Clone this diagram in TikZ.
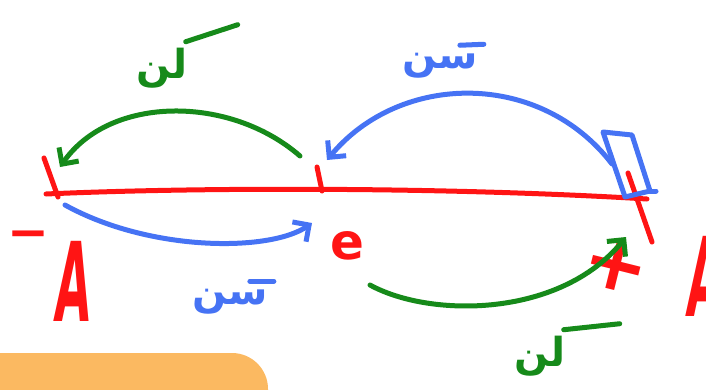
\documentclass[tikz,border=0pt]{standalone}
\usepackage{fontspec}
\setmainfont{DejaVu Sans}
\newfontfamily\arabicfont[Script=Arabic]{DejaVu Sans}
\TeXXeTstate=1
\usetikzlibrary{arrows.meta}
\definecolor{pen}{HTML}{FF1414}
\definecolor{bluepen}{HTML}{4673F4}
\definecolor{greenpen}{HTML}{168A1A}
\definecolor{notefill}{HTML}{FBB961}
\tikzset{
  stroke/.style={line width=5pt,line cap=round,line join=round},
  axis/.style={stroke,draw=pen},
  bluearr/.style={stroke,draw=bluepen,-{Straight Barb[length=12pt,width=24pt]}},
  greenarr/.style={stroke,draw=greenpen,-{Straight Barb[length=12pt,width=24pt]}},
  bluebar/.style={stroke,draw=bluepen},
  greenbar/.style={stroke,draw=greenpen},
  poslabel/.style={text=pen,inner sep=0pt},
  bigA/.style={poslabel,font=\fontsize{110}{110}\selectfont\bfseries,xscale=0.42,xslant=0.15},
  arab/.style={inner sep=0pt,font=\fontsize{40}{40}\selectfont\arabicfont\bfseries},
}
\begin{document}
\begin{tikzpicture}[x=1pt,y=-1pt]
\useasboundingbox (0,0) rectangle (706,389);
\clip (0,0) rectangle (706,389);

% note box at the bottom (cut off)
\fill[notefill,rounded corners=36pt] (-40,353) -- (268,353) -- (268,440) -- (-40,440) -- cycle;

% axis with the three positions
\coordinate (negA) at (46,194);
\coordinate (mid) at (320,190);
\coordinate (posA) at (647,199);
\draw[axis] (negA) .. controls (200,187) and (450,187) .. (posA);
\draw[axis] (44,158) -- (58,197);
\draw[axis] (317,167) -- (322,191);
\draw[axis] (628,173) -- (652,242);

% block at +A
\draw[stroke,draw=bluepen] (603,132) -- (632,135) -- (650,191) -- (625,197) -- cycle;
\draw[stroke,draw=bluepen] (650,191) -- (656,191);

% position labels
\node[poslabel,font=\fontsize{50}{50}\selectfont\bfseries] (minus) at (28,240) {−};
\node[bigA] (Aleft) at (74,281) {A};
\node[poslabel,font=\fontsize{50}{50}\selectfont\bfseries] (eq) at (347,246) {e};
\node[poslabel,font=\fontsize{78}{78}\selectfont\bfseries,rotate=-14] (plus) at (616,266) {+};
\node[bigA] (Aright) at (706,276) {A};

% ends of the arrows
\coordinate (gt1) at (300,156);
\coordinate (gt2) at (60,167);
\coordinate (bt1) at (612,164);
\coordinate (bt2) at (327,160);
\coordinate (bb1) at (65,205);
\coordinate (bb2) at (312,223);
\coordinate (gb1) at (370,285);
\coordinate (gb2) at (626,237);

% arrows
\draw[greenarr] (gt1) .. controls (230,95) and (110,95) .. (gt2);
\draw[bluearr] (bt1) .. controls (540,70) and (400,72) .. (bt2);
\draw[bluearr] (bb1) .. controls (150,252) and (270,252) .. (bb2);
\draw[greenarr] (gb1) .. controls (430,318) and (560,318) .. (gb2);

% time labels
\node[arab,text=greenpen] (gtop) at (162,68) {\beginR لن\endR};
\node[arab,text=bluepen] (btop) at (440,66) {\beginR سن\endR};
\node[arab,text=bluepen] (bbot) at (230,302) {\beginR سن\endR};
\node[arab,text=greenpen] (gbot) at (540,356) {\beginR لن\endR};
\draw[greenbar] ([xshift=-2pt,yshift=6pt]gtop.north east) -- ++(52,-17);
\draw[bluebar] ([xshift=-18pt,yshift=8pt]btop.north east) -- ++(24,-1);
\draw[bluebar] ([xshift=-18pt,yshift=8pt]bbot.north east) -- ++(24,0);
\draw[greenbar] ([xshift=-2pt,yshift=6pt]gbot.north east) -- ++(56,-6);

\end{tikzpicture}
\end{document}
